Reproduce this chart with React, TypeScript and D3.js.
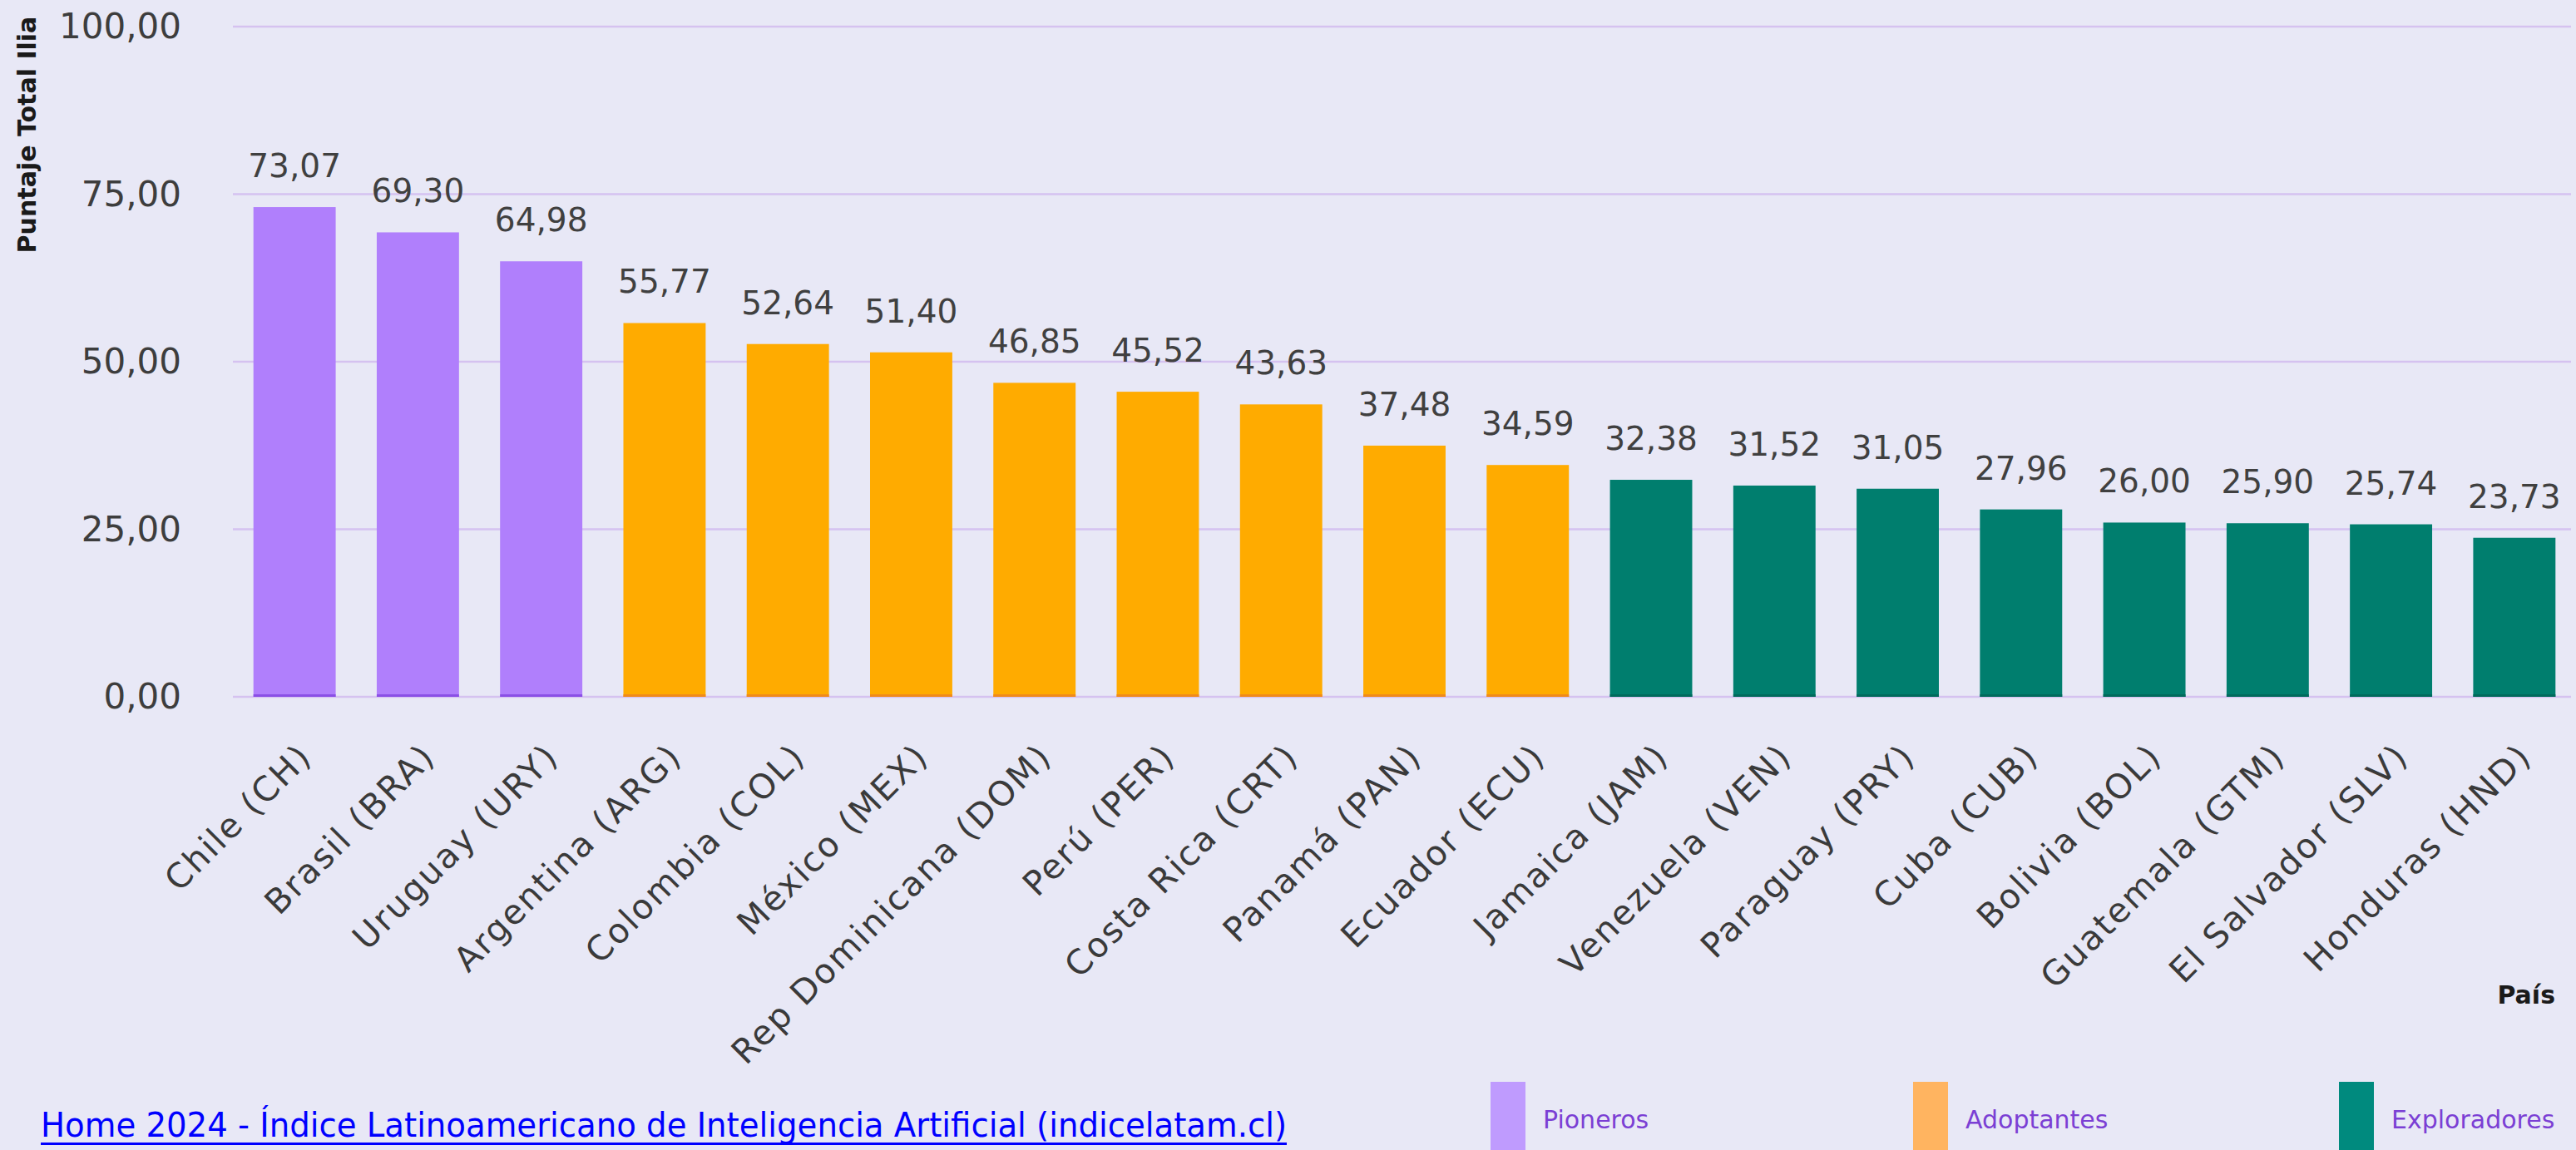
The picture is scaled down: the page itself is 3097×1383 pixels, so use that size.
import React from "react";
import * as d3 from "d3";

const countries = [
  "Chile (CH)", "Brasil (BRA)", "Uruguay (URY)", "Argentina (ARG)", "Colombia (COL)",
  "México (MEX)", "Rep Dominicana (DOM)", "Perú (PER)", "Costa Rica (CRT)", "Panamá (PAN)",
  "Ecuador (ECU)", "Jamaica (JAM)", "Venezuela (VEN)", "Paraguay (PRY)", "Cuba (CUB)",
  "Bolivia (BOL)", "Guatemala (GTM)", "El Salvador (SLV)", "Honduras (HND)",
];
const scores = [
  73.07, 69.30, 64.98, 55.77, 52.64, 51.40, 46.85, 45.52, 43.63, 37.48,
  34.59, 32.38, 31.52, 31.05, 27.96, 26.00, 25.90, 25.74, 23.73,
];
const groups = [
  "Pioneros", "Pioneros", "Pioneros",
  "Adoptantes", "Adoptantes", "Adoptantes", "Adoptantes", "Adoptantes", "Adoptantes", "Adoptantes", "Adoptantes",
  "Exploradores", "Exploradores", "Exploradores", "Exploradores", "Exploradores", "Exploradores", "Exploradores", "Exploradores",
];
const groupNames = ["Pioneros", "Adoptantes", "Exploradores"];
const yTicks = [0, 25, 50, 75, 100];

const barColors: Record<string, string> = {
  Pioneros: "#b07ffc",
  Adoptantes: "#ffab00",
  Exploradores: "#007e6e",
};
const barEdge: Record<string, string> = {
  Pioneros: "#8a4fe6",
  Adoptantes: "#f08a1a",
  Exploradores: "#006a5c",
};
const legendColors: Record<string, string> = {
  Pioneros: "#bf9bfe",
  Adoptantes: "#ffb460",
  Exploradores: "#008a7e",
};

const W = 3097;
const H = 1383;

const locale = d3.formatLocale({ decimal: ",", thousands: ".", grouping: [3], currency: ["", ""] });
const fmt = locale.format(".2f");

export default function App() {
  const x = d3.scaleBand<string>().domain(countries).range([280, 3097]).paddingInner(0.333).paddingOuter(0.1665);
  const y = d3.scaleLinear().domain([0, 100]).range([838, 32]);
  const bw = x.bandwidth();
  const numFont = "'DejaVu Sans', sans-serif";
  const legendX = [1792, 2300, 2812];

  return (
    <svg width={W} height={H} style={{ position: "absolute", left: 0, top: 0, display: "block" }}>
      <rect x={0} y={0} width={W} height={H} fill="#e8e8f6" />
      {yTicks.map((t) => (
        <g key={t}>
          <line x1={280} x2={3091} y1={y(t)} y2={y(t)} stroke="#d5c2f0" strokeWidth={2.5} />
          <text x={218} y={y(t) + 14} textAnchor="end" fontFamily={numFont} fontSize={42} fill="#3d3d3d">
            {fmt(t)}
          </text>
        </g>
      ))}
      {countries.map((c, i) => {
        const x0 = x(c)!;
        const top = y(scores[i]);
        const g = groups[i];
        return (
          <g key={c}>
            <rect x={x0} y={top} width={bw} height={y(0) - top} fill={barColors[g]} />
            <rect x={x0} y={y(0) - 3} width={bw} height={3} fill={barEdge[g]} />
            <text x={x0 + bw / 2} y={top - 36} textAnchor="middle" fontFamily={numFont} fontSize={39} fill="#404040">
              {fmt(scores[i])}
            </text>
            <text
              transform={`translate(${x0 + bw / 2 + 23},${912}) rotate(-45)`}
              textAnchor="end"
              fontFamily={numFont}
              fontSize={41}
              letterSpacing={2.2}
              fill="#3a3a3a"
            >
              {c}
            </text>
          </g>
        );
      })}
      <text
        transform="translate(43,162) rotate(-90)"
        textAnchor="middle"
        fontFamily={numFont}
        fontWeight="bold"
        fontSize={30}
        fill="#1a1a1a"
      >
        Puntaje Total Ilia
      </text>
      <text x={3072} y={1207} textAnchor="end" fontFamily={numFont} fontWeight="bold" fontSize={30} fill="#1a1a1a">
        País
      </text>
      {groupNames.map((g, i) => (
        <g key={g}>
          <rect x={legendX[i]} y={1301} width={42} height={82} fill={legendColors[g]} />
          <text x={legendX[i] + 63} y={1357} fontFamily={numFont} fontSize={30} fill="#7b3fd4">
            {g}
          </text>
        </g>
      ))}
      <text
        x={49}
        y={1367}
        fontFamily="'Liberation Sans Narrow', 'DejaVu Sans Condensed', 'Liberation Sans', sans-serif"
        fontSize={40}
        fill="#0000ff"
        textLength={1498}
        lengthAdjust="spacingAndGlyphs"
      >
        Home 2024 - Índice Latinoamericano de Inteligencia Artificial (indicelatam.cl)
      </text>
      <rect x={49} y={1374} width={1498} height={3} fill="#0000ff" />
    </svg>
  );
}
